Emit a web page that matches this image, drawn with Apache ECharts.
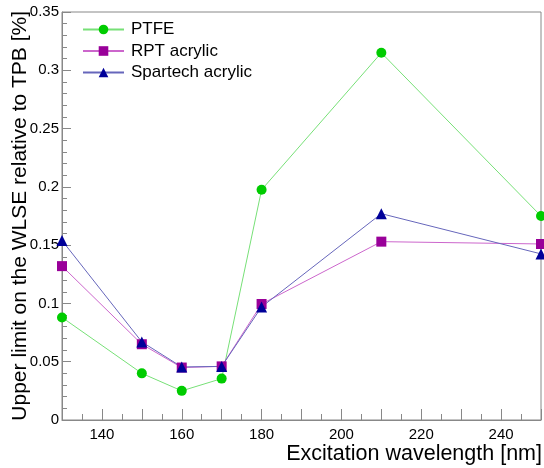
<!DOCTYPE html>
<html><head><meta charset="utf-8">
<script src="https://cdn.jsdelivr.net/npm/echarts@6/dist/echarts.min.js"></script>
<style>html,body{margin:0;padding:0;background:#fff}#c{width:544px;height:468px}</style>
</head><body><div id="c"></div>
<script>
const wavelengths = [130, 150, 160, 170, 180, 210, 250];
const ptfe = [0.088, 0.040, 0.025, 0.0355, 0.1975, 0.315, 0.175];
const rpt = [0.132, 0.065, 0.045, 0.046, 0.0995, 0.153, 0.151];
const spartech = [0.154, 0.067, 0.0455, 0.046, 0.097, 0.177, 0.1425];
const seriesNames = ['PTFE', 'RPT acrylic', 'Spartech acrylic'];
const xTitle = 'Excitation wavelength [nm]';
const yTitle = 'Upper limit on the WLSE relative to TPB [%]';

const FONT = 'Liberation Sans, Arial, Helvetica, sans-serif';
const pair = (arr) => wavelengths.map((w, i) => [w, arr[i]]);
const chart = echarts.init(document.getElementById('c'), null, {renderer: 'canvas'});
const axisCol = '#888888';
function mk(name, data, sym, size, mcol, lcol) {
  return {
    name, type: 'line', data, symbol: sym, symbolSize: size, showSymbol: true,
    itemStyle: {color: mcol, borderWidth: 0},
    lineStyle: {color: lcol, width: 1},
    emphasis: {disabled: true}, animation: false, z: 3
  };
}
chart.setOption({
  animation: false,
  grid: {left: 62, right: 2, top: 12, bottom: 48, show: true, borderColor: axisCol, borderWidth: 1},
  legend: {
    orient: 'vertical', left: 77, top: 16, itemWidth: 41, itemHeight: 12, itemGap: 4.5,
    data: seriesNames,
    textStyle: {fontFamily: FONT, fontSize: 17, color: '#000', padding: [0, 0, 0, 2]}
  },
  xAxis: {
    type: 'value', min: 130, max: 250, interval: 10,
    axisLine: {lineStyle: {color: axisCol}},
    axisTick: {inside: true, length: 11, lineStyle: {color: axisCol}},
    minorTick: {show: true, splitNumber: 2, length: 6, lineStyle: {color: axisCol}},
    axisLabel: {fontFamily: FONT, fontSize: 15, color: '#000', margin: 7,
      formatter: v => (v % 20 === 0 ? String(v) : ''), showMinLabel: true, showMaxLabel: true},
    splitLine: {show: false}
  },
  yAxis: {
    type: 'value', min: 0, max: 0.35, interval: 0.05,
    axisLine: {show: true, lineStyle: {color: axisCol}},
    axisTick: {show: true, inside: true, length: 9, lineStyle: {color: axisCol}},
    minorTick: {show: true, splitNumber: 5, length: 5, lineStyle: {color: axisCol}},
    axisLabel: {fontFamily: FONT, fontSize: 15, color: '#000', margin: 3},
    splitLine: {show: false}
  },
  graphic: [
    {type: 'text', right: 2, top: 443, style: {text: xTitle, font: '21.5px ' + FONT, fill: '#000'}},
    {type: 'text', x: 20, y: 11, rotation: Math.PI / 2,
      style: {text: yTitle, font: '21px ' + FONT, fill: '#000', textAlign: 'right', textVerticalAlign: 'middle'}}
  ],
  series: [
    mk(seriesNames[0], pair(ptfe), 'circle', 10, '#00cc00', '#77e077'),
    mk(seriesNames[1], pair(rpt), 'rect', 10, '#990099', '#cc66cc'),
    mk(seriesNames[2], pair(spartech), 'triangle', 11, '#000099', '#6666bb')
  ]
});
</script></body></html>
